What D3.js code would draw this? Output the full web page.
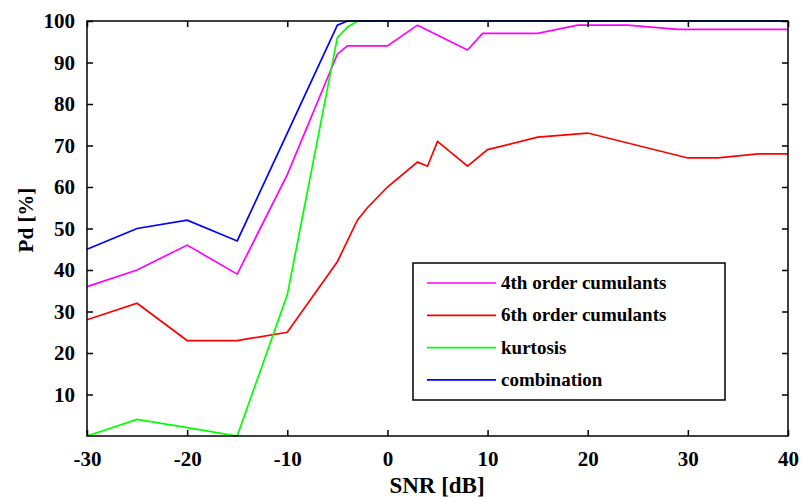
<!DOCTYPE html>
<html>
<head>
<meta charset="utf-8">
<script src="https://cdn.jsdelivr.net/npm/d3@7"></script>
<style>
  body { margin: 0; background: #fff; }
  svg text { font-family: "Liberation Serif", "Times New Roman", serif; font-weight: bold; }
</style>
</head>
<body>
<div class="container"></div>
<script>
// data
var xTicks = [-30, -20, -10, 0, 10, 20, 30, 40];
var yTicks = [10, 20, 30, 40, 50, 60, 70, 80, 90, 100];

var snr4 = [-30, -25, -20, -15, -10, -5, -4, 0, 3, 8, 9.5, 15, 19, 24, 29, 40];
var pd4  = [36, 40, 46, 39, 63, 92, 94, 94, 99, 93, 97, 97, 99, 99, 98, 98];

var snr6 = [-30, -25, -20, -15, -10, -5, -3, -2, 0, 3, 4, 5, 8, 10, 15, 20, 30, 33, 37, 40];
var pd6  = [28, 32, 23, 23, 25, 42, 52, 55, 60, 66, 65, 71, 65, 69, 72, 73, 67, 67, 68, 68];

var snrK = [-30, -25, -20, -15, -10, -5, -4, -3, 40];
var pdK  = [0, 4, 2, 0, 34, 96, 98.5, 100, 100];

var snrC = [-30, -25, -20, -15, -10, -5, -4, 40];
var pdC  = [45, 50, 52, 47, 73, 99, 100, 100];

var seriesNames = ["4th order cumulants", "6th order cumulants", "kurtosis", "combination"];
var seriesColors = ["#ff00ff", "#ff0000", "#00ff00", "#0000ff"];

function zip(xs, ys){
    var out = [];
    for (var i = 0; i < xs.length; i++) out.push({x: xs[i], y: ys[i]});
    return out;
}

var series = [zip(snr4, pd4), zip(snr6, pd6), zip(snrK, pdK), zip(snrC, pdC)];

var width = 801, height = 497;
var margin = {left: 87, right: 13, top: 21, bottom: 61};
var w = width - margin.left - margin.right;
var h = height - margin.top - margin.bottom;
var serif = "'Liberation Serif', 'Times New Roman', serif";

var svg = d3.select(".container").append("svg").attr("width", width).attr("height", height);
var g = svg.append("g").attr("transform", "translate(" + margin.left + "," + margin.top + ")");

var x = d3.scaleLinear().domain([-30, 40]).range([0, w]);
var y = d3.scaleLinear().domain([0, 100]).range([h, 0]);

// lines
var line = d3.line().x(function(d){ return x(d.x); }).y(function(d){ return y(d.y); });
g.selectAll("path.series")
    .data(series)
    .enter().append("path")
    .attr("class", "series")
    .attr("fill", "none")
    .attr("stroke", function(d, i){ return seriesColors[i]; })
    .attr("stroke-width", 1.7)
    .attr("d", line);

// axes, ticks inward on all four sides
var tk = 6;
var plain = function(d){ return String(d); };
var axB = g.append("g").attr("transform", "translate(0," + h + ")")
    .call(d3.axisBottom(x).tickValues(xTicks).tickSizeInner(-tk).tickSizeOuter(0).tickPadding(15).tickFormat(plain));
var axT = g.append("g")
    .call(d3.axisTop(x).tickValues(xTicks).tickSizeInner(-tk).tickSizeOuter(0).tickFormat(""));
var axL = g.append("g")
    .call(d3.axisLeft(y).tickValues(yTicks).tickSizeInner(-tk).tickSizeOuter(0).tickPadding(12).tickFormat(plain));
var axR = g.append("g").attr("transform", "translate(" + w + ",0)")
    .call(d3.axisRight(y).tickValues(yTicks).tickSizeInner(-tk).tickSizeOuter(0).tickFormat(""));

[axB, axT, axL, axR].forEach(function(a){
    a.select(".domain").remove();
    a.selectAll(".tick line").attr("stroke", "#000").attr("stroke-width", 1.5);
    a.selectAll(".tick text").attr("fill", "#000").attr("font-size", 21)
        .attr("font-family", serif).attr("font-weight", "bold");
});

g.append("rect")
    .attr("x", 0).attr("y", 0).attr("width", w).attr("height", h)
    .attr("fill", "none").attr("stroke", "#000").attr("stroke-width", 1.5);

// axis labels
svg.append("text")
    .attr("x", 437).attr("y", 493)
    .attr("text-anchor", "middle").attr("font-size", 23).attr("fill", "#000")
    .attr("font-family", serif).attr("font-weight", "bold")
    .text("SNR [dB]");
svg.append("text")
    .attr("transform", "translate(33," + 220 + ") rotate(-90)")
    .attr("text-anchor", "middle").attr("font-size", 21).attr("fill", "#000")
    .attr("font-family", serif).attr("font-weight", "bold")
    .text("Pd [%]");

// legend
var lg = svg.append("g").attr("transform", "translate(413,263)");
lg.append("rect").attr("width", 312).attr("height", 137)
    .attr("fill", "#fff").attr("stroke", "#000").attr("stroke-width", 1.5);
var rows = lg.selectAll("g.item").data(seriesNames).enter().append("g")
    .attr("class", "item")
    .attr("transform", function(d, i){ return "translate(0," + (20 + i * 32.3) + ")"; });
rows.append("line").attr("x1", 14).attr("x2", 83).attr("y1", 0).attr("y2", 0)
    .attr("stroke", function(d, i){ return seriesColors[i]; }).attr("stroke-width", 1.7);
rows.append("text").attr("x", 88).attr("y", 0).attr("dy", "0.32em")
    .attr("font-size", 19).attr("fill", "#000")
    .attr("font-family", serif).attr("font-weight", "bold")
    .text(function(d){ return d; });
</script>
</body>
</html>
